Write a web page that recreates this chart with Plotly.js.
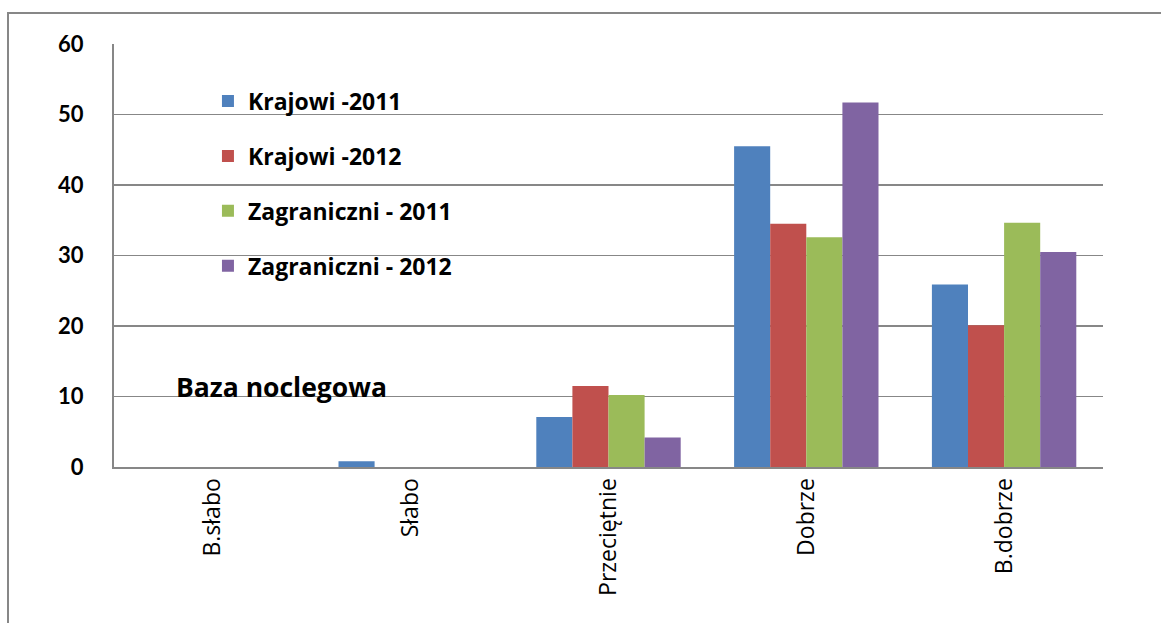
<!DOCTYPE html>
<html>
<head>
<meta charset="utf-8">
<script src="https://cdn.plot.ly/plotly-3.0.1.min.js"></script>
<style>
  html, body { margin: 0; padding: 0; background: #fff; }
  #wrap { position: relative; width: 1161px; height: 623px; overflow: hidden; }
  #chart { width: 1161px; height: 623px; }
  #frame { position: absolute; left: 7px; top: 12px; width: 1200px; height: 700px;
           border-left: 2px solid #878787; border-top: 2px solid #878787; pointer-events: none; }
</style>
</head>
<body>
<div id="wrap">
  <div id="chart"></div>
  <div id="frame"></div>
</div>
<script>
const categories = ["B.słabo", "Słabo", "Przeciętnie", "Dobrze", "B.dobrze"];
const seriesNames = ["Krajowi -2011", "Krajowi -2012", "Zagraniczni - 2011", "Zagraniczni - 2012"];
const krajowi2011 = [0, 0.8, 7.1, 45.5, 25.9];
const krajowi2012 = [0, 0, 11.5, 34.5, 20.1];
const zagraniczni2011 = [0, 0, 10.2, 32.6, 34.65];
const zagraniczni2012 = [0, 0, 4.2, 51.7, 30.5];
const colors = ["#4F81BD", "#C0504D", "#9BBB59", "#8064A2"];
const seriesValues = [krajowi2011, krajowi2012, zagraniczni2011, zagraniczni2012];

const traces = seriesValues.map((vals, i) => ({
  type: "bar",
  name: seriesNames[i],
  x: categories,
  y: vals,
  legendgroup: "g" + i,
  marker: { color: colors[i], line: { width: 0 } },
  hoverinfo: "x+y+name"
}));

const grid = "#878787";
const layout = {
  width: 1161,
  height: 623,
  margin: { l: 114, r: 58, t: 44, b: 156 },
  paper_bgcolor: "#ffffff",
  plot_bgcolor: "#ffffff",
  font: { family: "Open Sans", size: 17, color: "#000" },
  barmode: "group",
  bargap: 0.27,
  bargroupgap: 0,
  showlegend: true,
  legend: {
    x: 0.095, y: 0.916, xanchor: "left", yanchor: "top",
    bgcolor: "rgba(0,0,0,0)",
    font: { family: "Open Sans", size: 23, color: "#000", weight: "bold" },
    tracegroupgap: 22,
    traceorder: "grouped",
    itemclick: false
  },
  xaxis: {
    type: "category",
    showline: true, linecolor: grid, linewidth: 2,
    showgrid: false, zeroline: false, ticks: "",
    tickangle: -90,
    tickfont: { family: "Open Sans", size: 23, color: "#000" }
  },
  yaxis: {
    range: [0, 60], dtick: 10, tick0: 0,
    showline: true, linecolor: grid, linewidth: 2,
    showgrid: true, gridcolor: grid, gridwidth: 1.6,
    zeroline: false, ticks: "",
    ticklabelstandoff: 24,
    tickfont: { family: "Lato", size: 22, color: "#000", weight: "bold" }
  },
  annotations: [{
    text: "Baza noclegowa",
    xref: "paper", yref: "paper",
    x: 0.061, y: 0.19, xanchor: "left", yanchor: "middle",
    showarrow: false,
    font: { family: "Open Sans", size: 26.5, color: "#000", weight: "bold" }
  }]
};

Plotly.newPlot("chart", traces, layout, { displayModeBar: false, staticPlot: true });
</script>
</body>
</html>
